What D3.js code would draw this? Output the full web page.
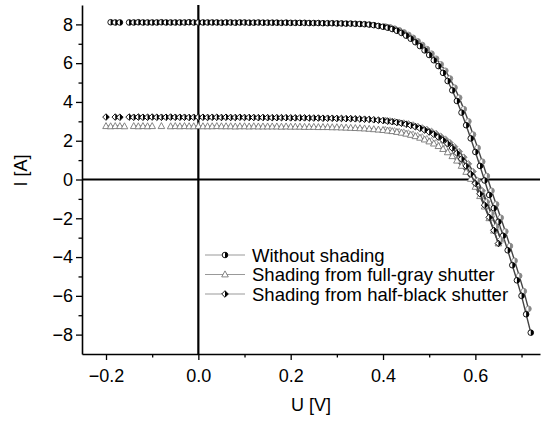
<!DOCTYPE html>
<html>
<head>
<meta charset="utf-8">
<script src="https://cdn.jsdelivr.net/npm/d3@7"></script>
<style>
  body { margin: 0; background: #fff; }
  text { font-family: "Liberation Sans", Arial, sans-serif; fill: #000; }
</style>
</head>
<body>
<div id="chart"></div>
<script>
const width = 541;
const height = 422;

// measured voltage points [V], forward sweep
const voltages = [
  -0.20,-0.19,-0.18,-0.17,-0.16,-0.15,-0.14,-0.13,-0.12,-0.11,
  -0.10,-0.09,-0.08,-0.07,-0.06,-0.05,-0.04,-0.03,-0.02,-0.01,
  0.00,0.01,0.02,0.03,0.04,0.05,0.06,0.07,0.08,0.09,
  0.10,0.11,0.12,0.13,0.14,0.15,0.16,0.17,0.18,0.19,
  0.20,0.21,0.22,0.23,0.24,0.25,0.26,0.27,0.28,0.29,
  0.30,0.31,0.32,0.33,0.34,0.35,0.36,0.37,0.38,0.39,
  0.40,0.41,0.42,0.43,0.44,0.45,0.46,0.47,0.48,0.49,
  0.50,0.51,0.52,0.53,0.54,0.55,0.56,0.57,0.58,0.59,
  0.60,0.61,0.62,0.63,0.64,0.65,0.66,0.67,0.68,0.69,
  0.70,0.71,0.72
];

// currents [A], null = missing point
const iNoShade = [
  null,8.11,8.10,8.10,null,8.10,8.10,8.11,8.10,8.10,
  8.10,8.10,8.11,8.10,8.10,8.10,8.10,8.10,8.11,8.10,
  8.10,8.10,8.10,8.10,8.10,8.09,8.10,8.10,8.09,8.10,
  8.10,8.09,8.09,8.10,8.09,8.09,8.09,8.09,8.08,8.09,
  8.08,8.08,8.08,8.08,8.07,8.07,8.07,8.06,8.06,8.06,
  8.05,8.05,8.04,8.04,8.03,8.02,8.01,7.99,7.96,7.92,
  7.88,7.83,7.76,7.67,7.56,7.42,7.26,7.08,6.88,6.66,
  6.42,6.15,5.85,5.50,5.08,4.60,4.05,3.45,2.80,2.12,
  1.42,0.70,-0.05,-0.80,-1.48,-2.18,-2.90,-3.65,-4.42,-5.20,
  -6.00,-6.95,-7.90
];

const iGray = [
  2.75,2.74,2.75,2.75,2.74,null,2.75,2.74,2.75,2.74,
  2.75,null,2.75,null,2.74,2.75,2.74,2.75,2.74,2.74,
  2.75,2.74,2.74,2.74,2.75,2.74,2.74,2.74,2.73,2.74,
  2.74,2.73,2.74,2.73,2.73,2.73,2.73,2.73,2.72,2.73,
  2.72,2.72,2.72,2.71,2.71,2.71,2.70,2.70,2.70,2.69,
  2.69,2.68,2.67,2.66,2.65,2.64,2.63,2.61,2.59,2.57,
  2.55,2.52,2.49,2.45,2.41,2.36,2.30,2.23,2.15,2.06,
  1.96,1.85,1.72,1.57,1.40,1.20,0.97,0.70,0.39,0.03,
  -0.38,-0.86,-1.40,-2.00,-2.64,-3.30
];

const iHalf = [
  3.22,null,3.22,3.21,null,3.22,3.21,3.22,3.21,3.21,
  3.22,3.21,3.21,3.21,3.22,3.21,3.21,3.21,3.20,3.21,
  3.21,3.21,3.20,3.21,3.21,3.20,3.21,3.20,3.20,3.21,
  3.20,3.20,3.20,3.19,3.20,3.19,3.19,3.19,3.19,3.19,
  3.18,3.18,3.18,3.18,3.17,3.17,3.17,3.16,3.16,3.16,
  3.15,3.15,3.14,3.14,3.13,3.12,3.11,3.10,3.08,3.06,
  3.04,3.01,2.98,2.94,2.90,2.85,2.79,2.72,2.64,2.55,
  2.45,2.33,2.19,2.03,1.84,1.62,1.36,1.06,0.70,0.28,
  -0.20,-0.74,-1.32,-1.95,-2.62,-3.30
];

// second (return) sweep, only near the knee
const voltages2 = [
  0.405,0.415,0.425,0.435,0.445,0.455,0.465,0.475,0.485,0.495,
  0.505,0.515,0.525,0.535,0.545,0.555,0.565,0.575,0.585,0.595,
  0.605,0.615,0.625,0.635,0.645,0.655,0.665,0.675,0.685,0.695,
  0.705,0.715
];
const iNoShade2 = [
  7.89,7.85,7.78,7.70,7.59,7.46,7.31,7.13,6.94,6.73,
  6.49,6.23,5.94,5.61,5.21,4.74,4.22,3.63,3.00,2.32,
  1.63,0.92,0.18,-0.58,-1.28,-1.97,-2.68,-3.43,-4.19,-4.97,
  -5.76,-6.67
];
const iGray2 = [
  2.56,2.53,2.50,2.46,2.43,2.38,2.32,2.25,2.18,2.09,
  1.99,1.89,1.77,1.62,1.46,1.27,1.05,0.79,0.50,0.15,
  -0.24,-0.70,-1.22,-1.81,-2.44,-3.10
];
const iHalf2 = [
  3.05,3.02,2.99,2.95,2.91,2.87,2.81,2.74,2.66,2.58,
  2.48,2.37,2.23,2.08,1.90,1.69,1.44,1.15,0.81,0.41,
  -0.06,-0.58,-1.15,-1.76,-2.42,-3.10
];

const seriesNames = ["Without shading", "Shading from full-gray shutter", "Shading from half-black shutter"];
const xTicks = [-0.2, 0.0, 0.2, 0.4, 0.6];
const xMinor = [-0.1, 0.1, 0.3, 0.5, 0.7];
const yTicks = [-8, -6, -4, -2, 0, 2, 4, 6, 8];
const yMinor = [-7, -5, -3, -1, 1, 3, 5, 7];

const margin = { left: 82, right: 1, top: 5, bottom: 68 };

const x = d3.scaleLinear().domain([-0.252, 0.74]).range([margin.left, width - margin.right]);
const y = d3.scaleLinear().domain([-9, 9]).range([height - margin.bottom, margin.top]);

const svg = d3.select("#chart")
  .append("svg")
    .attr("width", width)
    .attr("height", height)
    .attr("viewBox", [0, 0, width, height]);

const fmt = d => d3.format(".1f")(d);

// axes
const xAxis = svg.append("g")
  .attr("transform", `translate(0,${y.range()[0]})`)
  .call(d3.axisBottom(x).tickValues(xTicks).tickFormat(fmt).tickSize(6).tickSizeOuter(0));
svg.append("g")
  .attr("transform", `translate(0,${y.range()[0]})`)
  .call(d3.axisBottom(x).tickValues(xMinor).tickFormat("").tickSize(3.5).tickSizeOuter(0))
  .select(".domain").remove();

const yAxis = svg.append("g")
  .attr("transform", `translate(${margin.left},0)`)
  .call(d3.axisLeft(y).tickValues(yTicks).tickFormat(d3.format("d")).tickSize(6).tickSizeOuter(0));
svg.append("g")
  .attr("transform", `translate(${margin.left},0)`)
  .call(d3.axisLeft(y).tickValues(yMinor).tickFormat("").tickSize(3.5).tickSizeOuter(0))
  .select(".domain").remove();

svg.selectAll(".domain").attr("stroke-width", 1.6);
svg.selectAll(".tick line").attr("stroke-width", 1.3);
xAxis.selectAll("text").attr("font-size", 18).attr("dy", "1.05em");
yAxis.selectAll("text").attr("font-size", 18).attr("x", -9);
svg.selectAll(".tick text").style("font-family", '"Liberation Sans", Arial, sans-serif');

// zero lines
svg.append("line")
  .attr("x1", x.range()[0]).attr("x2", x.range()[1])
  .attr("y1", y(0)).attr("y2", y(0))
  .attr("stroke", "#000").attr("stroke-width", 2.2);
svg.append("line")
  .attr("x1", x(0)).attr("x2", x(0))
  .attr("y1", y.range()[1]).attr("y2", y.range()[0])
  .attr("stroke", "#000").attr("stroke-width", 2.2);

// titles
svg.append("text")
  .attr("x", (x.range()[0] + x.range()[1]) / 2)
  .attr("y", 411)
  .attr("text-anchor", "middle")
  .attr("font-size", 18)
  .text("U [V]");
svg.append("text")
  .attr("transform", `translate(27,${(y.range()[0] + y.range()[1]) / 2 - 9}) rotate(-90)`)
  .attr("text-anchor", "middle")
  .attr("font-size", 18)
  .text("I [A]");

// marker drawing
const r = 2.8, s = 3.3;
function circleMarker(g, ink) {
  g.append("circle").attr("r", r).attr("fill", "#fff").attr("stroke", ink).attr("stroke-width", 0.9);
  g.append("path").attr("d", `M0,${-r}A${r},${r} 0 0 1 0,${r}Z`).attr("fill", ink);
}
function triangleMarker(g, ink) {
  g.append("path").attr("d", "M0,-3.6L3.3,2.4L-3.3,2.4Z")
    .attr("fill", "#fff").attr("stroke", ink === "#000" ? "#777" : "#999").attr("stroke-width", 0.9);
}
function diamondMarker(g, ink) {
  g.append("path").attr("d", `M0,${-s}L${s},0L0,${s}L${-s},0Z`)
    .attr("fill", "#fff").attr("stroke", ink).attr("stroke-width", 0.9);
  g.append("path").attr("d", `M0,${-s}L${s},0L0,${s}Z`).attr("fill", ink);
}

const series = [
  { name: seriesNames[0], values: iNoShade, values2: iNoShade2, marker: circleMarker },
  { name: seriesNames[1], values: iGray, values2: iGray2, marker: triangleMarker },
  { name: seriesNames[2], values: iHalf, values2: iHalf2, marker: diamondMarker }
];

const line = d3.line()
  .defined(d => d.i !== null)
  .x(d => x(d.u))
  .y(d => y(d.i));

function drawSweep(us, is, marker, ink) {
  const pts = is.map((v, k) => ({ u: us[k], i: v }));
  svg.append("path")
    .datum(pts)
    .attr("fill", "none")
    .attr("stroke", "#444")
    .attr("stroke-width", 1.4)
    .attr("d", line);
  svg.append("g").selectAll("g")
    .data(pts.filter(d => d.i !== null))
    .enter().append("g")
      .attr("transform", d => `translate(${x(d.u)},${y(d.i)})`)
      .each(function() { marker(d3.select(this), ink); });
}

series.forEach(sr => {
  drawSweep(voltages2, sr.values2, sr.marker, "#888");
  drawSweep(voltages, sr.values, sr.marker, "#000");
});

// legend
const legend = svg.append("g");
series.forEach((sr, k) => {
  const ly = 255 + k * 19.5;
  legend.append("line")
    .attr("x1", 205).attr("x2", 245).attr("y1", ly).attr("y2", ly)
    .attr("stroke", "#999").attr("stroke-width", 1);
  const g = legend.append("g").attr("transform", `translate(225,${ly})`);
  sr.marker(g, "#000");
  legend.append("text")
    .attr("x", 252).attr("y", ly).attr("dy", "0.36em")
    .attr("font-size", 18.5)
    .text(sr.name);
});
</script>
</body>
</html>
